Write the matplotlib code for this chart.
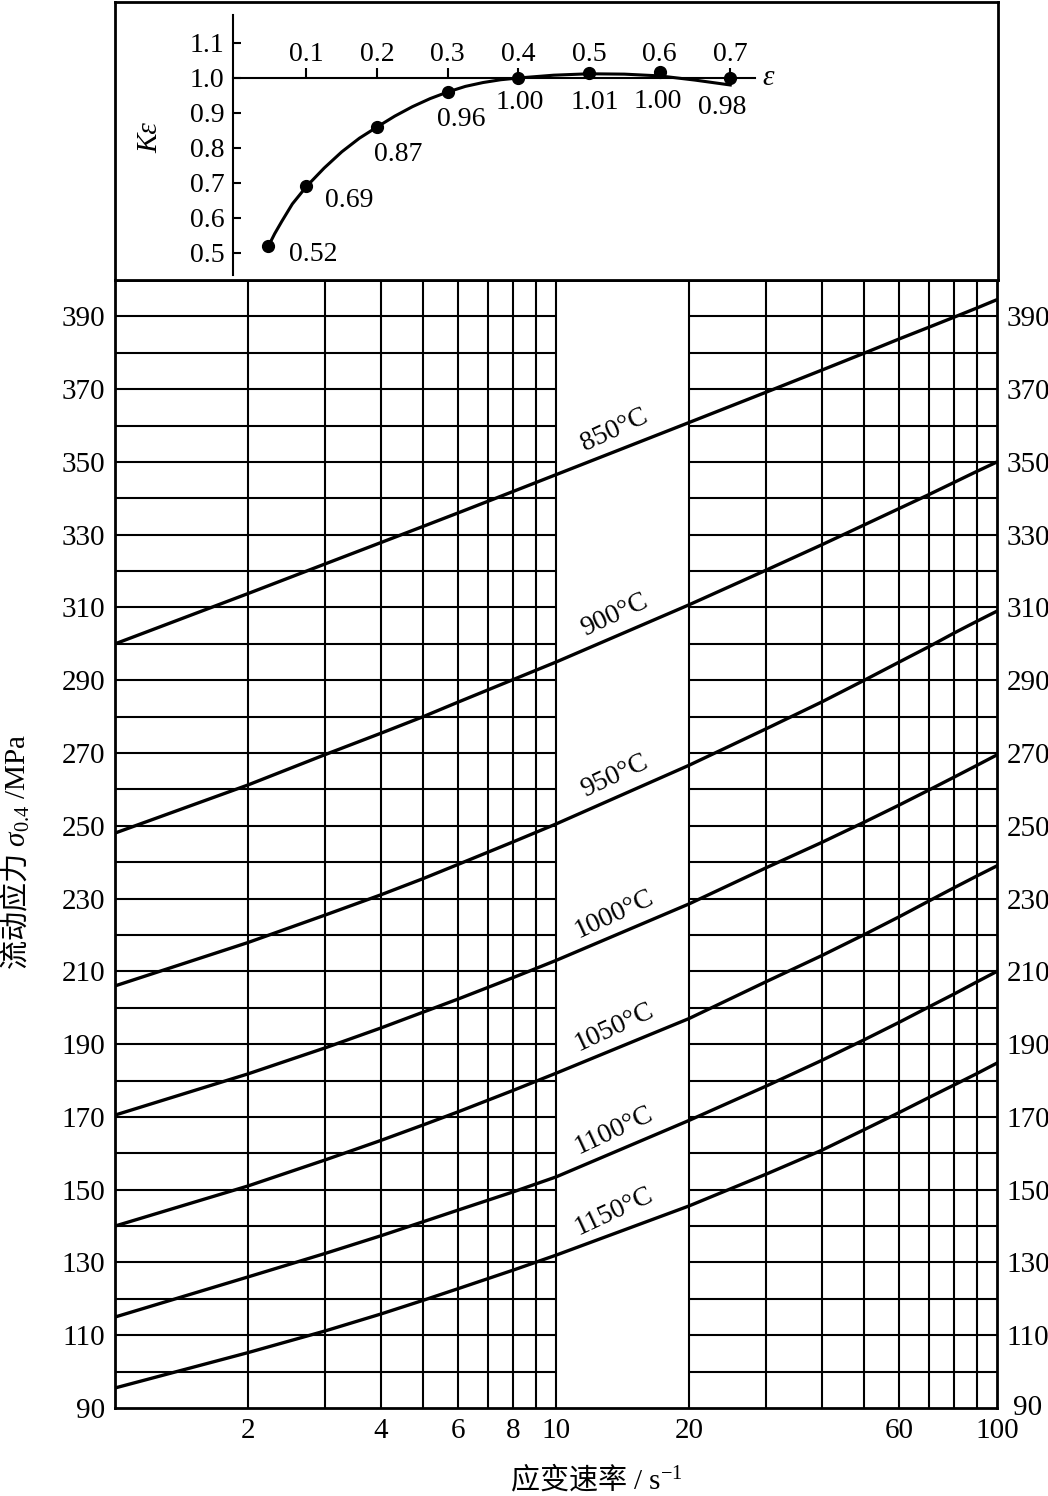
import numpy as np
import matplotlib
matplotlib.use('agg')
import matplotlib.pyplot as plt
from matplotlib import transforms

plt.rcParams['font.family'] = ['Liberation Serif', 'Noto Sans CJK SC']
plt.rcParams['mathtext.fontset'] = 'custom'
plt.rcParams['mathtext.rm'] = 'Noto Sans CJK SC'
plt.rcParams['mathtext.it'] = 'Liberation Serif:italic'
plt.rcParams['mathtext.sf'] = 'Liberation Serif'
plt.rcParams['mathtext.bf'] = 'Liberation Serif:bold'

# main chart: strain rate (1/s) vs flow stress sigma_0.4 (MPa)
rate = [1, 2, 3, 4, 5, 6, 8, 10, 20, 30, 40, 50, 60, 70, 80, 90, 100]
temps = ['850°C', '900°C', '950°C', '1000°C', '1050°C', '1100°C', '1150°C']
s850 = [300, 313.8, 322, 327.8, 332.3, 336, 341.9, 346.5, 360.8, 369.2, 375.2, 379.9, 383.8, 387, 389.8, 392.3, 394.6]
s900 = [248, 261.2, 269.6, 275.4, 280, 284, 290.2, 295, 310.7, 320.3, 327.2, 332.7, 337.2, 341, 344.4, 347.4, 350]
s950 = [206, 217.9, 225.5, 231, 235.5, 239.4, 245.6, 250.5, 266.6, 276.7, 284, 290, 295, 299.2, 303, 306.2, 309]
s1000 = [170.5, 181.8, 189, 194.4, 198.8, 202.4, 208.3, 213, 228.5, 238.5, 245.4, 251, 255.7, 259.8, 263.4, 266.6, 269.5]
s1050 = [140, 151, 158.2, 163.5, 167.8, 171.4, 177.3, 182, 197, 207.2, 214.3, 220.1, 225, 229.3, 233, 236.2, 239]
s1100 = [115, 126, 132.5, 137.3, 141.2, 144.4, 149.4, 153.5, 169, 178.5, 185.5, 191.2, 196, 200.2, 203.8, 207.1, 210]
s1150 = [95.5, 105.2, 111.2, 115.8, 119.6, 122.8, 127.9, 132, 145.5, 154.3, 160.8, 166.5, 171.2, 175.3, 178.8, 181.9, 184.8]
curves = [s850, s900, s950, s1000, s1050, s1100, s1150]

xticks_main = [2, 4, 6, 8, 10, 20, 60, 100]
yticks_main = list(range(90, 400, 20))

# inset: K_epsilon vs strain epsilon
eps_pts = [0.046, 0.1, 0.2, 0.3, 0.4, 0.5, 0.6, 0.7]
k_pts = [0.519, 0.69, 0.86, 0.96, 1.00, 1.013, 1.016, 1.00]
k_labels = ['0.52', '0.69', '0.87', '0.96', '1.00', '1.01', '1.00', '0.98']
eps_curve = [0.046, 0.055, 0.065, 0.08, 0.1, 0.125, 0.15, 0.175, 0.2, 0.225, 0.25, 0.275, 0.3,
             0.325, 0.35, 0.375, 0.4, 0.45, 0.5, 0.55, 0.6, 0.65, 0.7]
k_curve = [0.519, 0.555, 0.59, 0.64, 0.69, 0.7425, 0.789, 0.828, 0.86, 0.891, 0.918, 0.941, 0.96,
           0.976, 0.987, 0.995, 1.0, 1.008, 1.012, 1.011, 1.006, 0.994, 0.98]
eps_ticks = [0.1, 0.2, 0.3, 0.4, 0.5, 0.6, 0.7]
k_ticks = [0.5, 0.6, 0.7, 0.8, 0.9, 1.0, 1.1]

W, H = 1048, 1496
fig = plt.figure(figsize=(W / 100, H / 100), dpi=100)

def frac(x0, y0, x1, y1):
    # pixel box -> figure fraction
    return [x0 / W, 1 - y1 / H, (x1 - x0) / W, (y1 - y0) / H]

# ---------------- main chart ----------------
ax = fig.add_axes(frac(115, 280, 997, 1408))
ax.set_xscale('log')
ax.set_xlim(1, 100)
ax.set_ylim(90, 400)

glw = 1.5
for v in range(100, 400, 10):
    ax.hlines(v, 1, 10, color='black', lw=glw, zorder=1)
    ax.hlines(v, 20, 100, color='black', lw=glw, zorder=1)
for v in list(range(2, 11)) + list(range(20, 100, 10)):
    ax.axvline(v, color='black', lw=glw, zorder=1)

for s in curves:
    ax.plot(rate, s, color='black', lw=2.4, zorder=3, solid_joinstyle='round')

lx = 13.55
for name, s in zip(temps, curves):
    ly = np.interp(np.log10(lx), np.log10(rate), s) + 6
    ax.text(lx, ly, name, rotation=25, ha='center', va='center', fontsize=20, zorder=4)

ax.set_xticks(xticks_main)
ax.set_xticklabels([str(t) for t in xticks_main])
ax.xaxis.set_minor_locator(matplotlib.ticker.NullLocator())
ax.set_yticks(yticks_main)
ax.tick_params(axis='both', length=0, labelsize=21, pad=7)
ax.tick_params(axis='y', labelright=True)
for sp in ax.spines.values():
    sp.set_linewidth(2)

# right-hand "90" sits a little to the right, next to the "100" label
t90 = ax.yaxis.get_major_ticks()[0].label2
t90.set_transform(t90.get_transform() + transforms.ScaledTranslation(6 / 100, 3 / 100, fig.dpi_scale_trans))

fig.text(16 / W, 1 - 852 / H, r'$\mathrm{流动应力}\ \sigma_{\mathsf{0.4}}\ \mathsf{/MPa}$', rotation=90,
         ha='center', va='center', fontsize=21, family='Noto Sans CJK SC')
fig.text(596 / W, 1 - 1480 / H, r'$\mathrm{应变速率}\ \mathsf{/\ s}^{\mathsf{-1}}$', ha='center', va='center',
         fontsize=21, family='Noto Sans CJK SC')

# ---------------- inset panel ----------------
frame = fig.add_axes(frac(115, 1.5, 998, 280))
frame.set_xticks([])
frame.set_yticks([])
for sp in frame.spines.values():
    sp.set_linewidth(2)

ins = fig.add_axes(frac(233, 15, 755, 275))
ins.patch.set_alpha(0)
ins.set_xlim(-0.004, 0.735)
ins.set_ylim(0.437, 1.18)
ins.spines['bottom'].set_visible(False)
ins.spines['right'].set_visible(False)
ins.spines['top'].set_position(('data', 1.0))
ins.spines['top'].set_linewidth(1.5)
ins.spines['left'].set_linewidth(1.5)
ins.xaxis.tick_top()
ins.set_xticks(eps_ticks)
ins.set_xticklabels([str(t) for t in eps_ticks])
ins.set_yticks(k_ticks)
ins.set_yticklabels(['%.1f' % t for t in k_ticks])
ins.tick_params(axis='x', direction='out', length=7, width=1.5, labelsize=20, pad=1)
ins.tick_params(axis='y', direction='in', length=6, width=1.5, labelsize=20, pad=6)

ins.plot(eps_curve, k_curve, color='black', lw=2.2, solid_joinstyle='round')
ins.plot(eps_pts, k_pts, 'o', color='black', ms=8.5)

offsets = [(32, -6), (31, -10), (15, -20), (10, -20), (1, -18), (4, -21), (-1, -21), (-6, -21)]
for e, k, lab, off in zip(eps_pts, k_pts, k_labels, offsets):
    ins.annotate(lab, (e, k), xytext=off, textcoords='offset points',
                 ha='center', va='center', fontsize=20)

ins.text(0.745, 1.0, 'ε', ha='left', va='center', fontsize=21, style='italic', clip_on=False)
fig.text(150 / W, 1 - 138 / H, 'Kε', rotation=90, ha='center', va='center', fontsize=21, style='italic')

plt.savefig('out.png', dpi=100)
